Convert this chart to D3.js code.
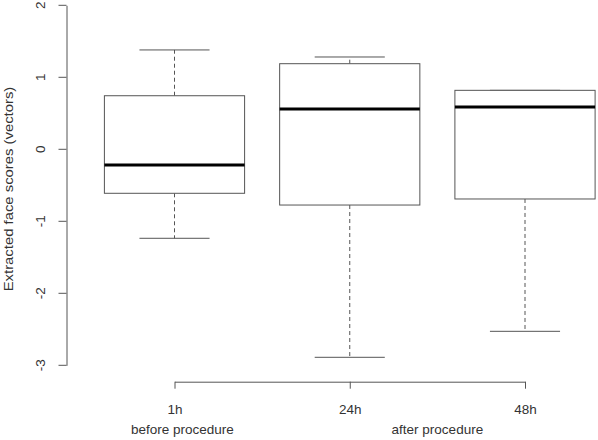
<!DOCTYPE html>
<html>
<head>
<meta charset="utf-8">
<script src="https://cdn.jsdelivr.net/npm/d3@7"></script>
<style>
  html, body { margin: 0; padding: 0; background: #fff; }
  svg text { font-family: "Liberation Sans", Arial, sans-serif; fill: #333; }
</style>
</head>
<body>
<svg id="chart" width="598" height="440"></svg>
<script>
// Five-number summaries per time point
const categories = ["1h", "24h", "48h"];
const whiskerLow  = [-1.236, -2.889, -2.528];
const q1          = [-0.611, -0.774, -0.690];
const median      = [-0.218,  0.560,  0.588];
const q3          = [ 0.744,  1.189,  0.819];
const whiskerHigh = [ 1.380,  1.282,  0.819];
const yTicks = [-3, -2, -1, 0, 1, 2];
const groupLabels = [
  { text: "before procedure", pos: 0.045 },
  { text: "after procedure", pos: 1.5 }
];

const data = categories.map((c, i) => ({
  cat: c, lo: whiskerLow[i], q1: q1[i], med: median[i], q3: q3[i], hi: whiskerHigh[i]
}));

const svg = d3.select("#chart");
const lineColor = "#555";

const y = d3.scaleLinear().domain([-3, 2]).range([365.3, 5.3]);
const x = d3.scaleLinear().domain([0, 2]).range([174.5, 525]);
const step = x(1) - x(0);
const boxW = step * 0.8;
const capW = boxW / 2;

// Left axis
const yAxis = svg.append("g")
  .attr("transform", "translate(66.5,0)")
  .call(d3.axisLeft(y).tickValues(yTicks).tickSize(8).tickSizeOuter(0)
    .tickFormat(d => d3.format("d")(d).replace("−", "-")));
yAxis.select(".domain").attr("stroke", lineColor);
yAxis.selectAll(".tick line").attr("stroke", lineColor);
yAxis.selectAll(".tick text")
  .attr("font-size", 13.5)
  .attr("transform", function (d) { return `translate(-26,${y(d)}) rotate(-90)`; })
  .attr("x", null).attr("y", null).attr("dy", "0.35em")
  .attr("text-anchor", "middle")
  .attr("fill", "#333");
yAxis.selectAll(".tick").attr("transform", null);
yAxis.selectAll(".tick line").attr("transform", d => `translate(0,${y(d)})`);

// Y axis title
svg.append("text")
  .attr("transform", "translate(13,189) rotate(-90) scale(1.1,1)")
  .attr("text-anchor", "middle")
  .attr("font-size", 13.5)
  .text("Extracted face scores (vectors)");

// Bottom axis
const xAxis = svg.append("g")
  .attr("transform", "translate(0,381.7)")
  .call(d3.axisBottom(x).tickValues([0, 1, 2]).tickSize(7).tickSizeOuter(0)
    .tickFormat(i => categories[i]));
xAxis.select(".domain").attr("stroke", lineColor);
xAxis.selectAll(".tick line").attr("stroke", lineColor);
xAxis.selectAll(".tick text")
  .attr("font-size", 13.5).attr("y", 32).attr("dy", "0")
  .attr("fill", "#333");

svg.selectAll("text.group")
  .data(groupLabels)
  .join("text")
  .attr("class", "group")
  .attr("x", d => x(d.pos))
  .attr("y", 434)
  .attr("text-anchor", "middle")
  .attr("font-size", 13.5)
  .text(d => d.text);

// Boxes
const g = svg.selectAll("g.box").data(data).join("g").attr("class", "box")
  .attr("transform", (d, i) => `translate(${x(i)},0)`);

g.append("line")
  .attr("x1", 0).attr("x2", 0)
  .attr("y1", d => y(d.q3)).attr("y2", d => y(d.hi))
  .attr("stroke", lineColor).attr("stroke-dasharray", "4,3");
g.append("line")
  .attr("x1", 0).attr("x2", 0)
  .attr("y1", d => y(d.q1)).attr("y2", d => y(d.lo))
  .attr("stroke", lineColor).attr("stroke-dasharray", "4,3");
g.append("line")
  .attr("x1", -capW / 2).attr("x2", capW / 2)
  .attr("y1", d => y(d.hi)).attr("y2", d => y(d.hi))
  .attr("stroke", lineColor);
g.append("line")
  .attr("x1", -capW / 2).attr("x2", capW / 2)
  .attr("y1", d => y(d.lo)).attr("y2", d => y(d.lo))
  .attr("stroke", lineColor);
g.append("rect")
  .attr("x", -boxW / 2).attr("width", boxW)
  .attr("y", d => y(d.q3)).attr("height", d => y(d.q1) - y(d.q3))
  .attr("fill", "#fff").attr("stroke", lineColor);
g.append("line")
  .attr("x1", -boxW / 2).attr("x2", boxW / 2)
  .attr("y1", d => y(d.med)).attr("y2", d => y(d.med))
  .attr("stroke", "#000").attr("stroke-width", 3);
</script>
</body>
</html>
